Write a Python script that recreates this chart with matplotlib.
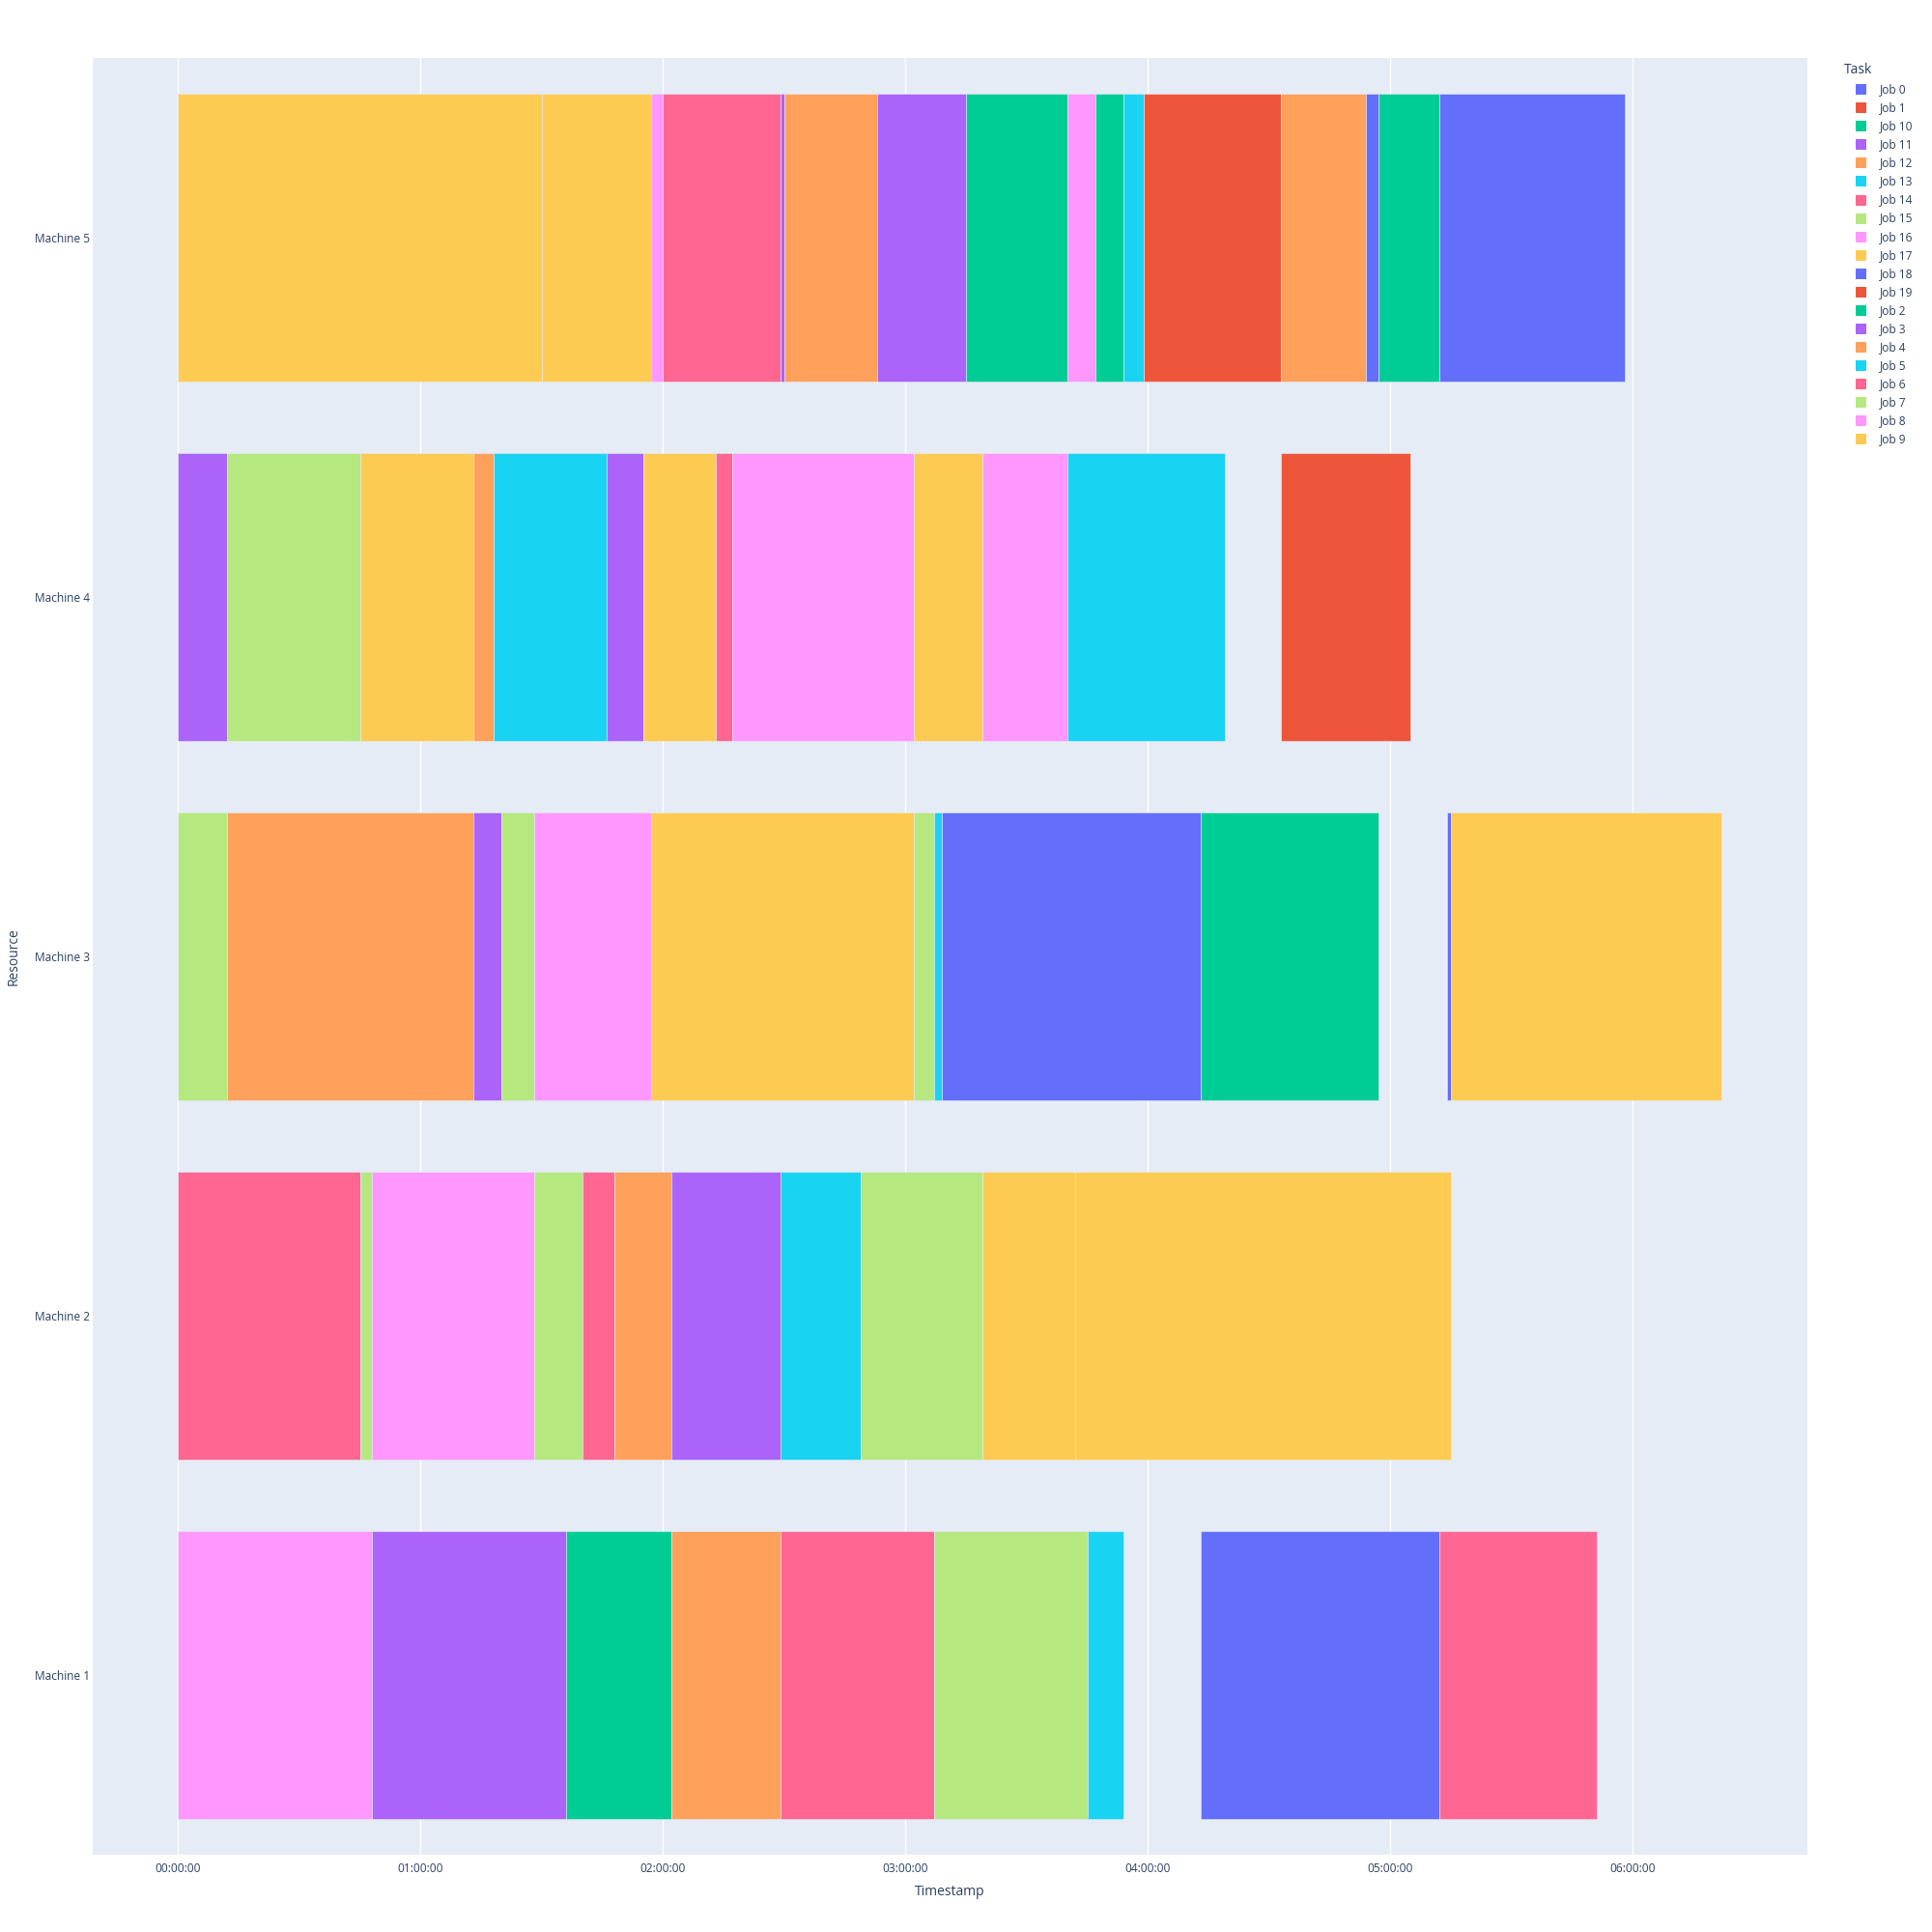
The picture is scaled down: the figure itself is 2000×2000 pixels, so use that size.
import matplotlib
matplotlib.use("Agg")
import matplotlib.pyplot as plt
from matplotlib.patches import Rectangle
from matplotlib.ticker import FuncFormatter, MultipleLocator

# schedule per machine, times in minutes from 00:00:00
machines = ["Machine 1", "Machine 2", "Machine 3", "Machine 4", "Machine 5"]

m1_start = [0, 48, 96, 122, 149, 187, 225, 253, 312]
m1_end = [48, 96, 122, 149, 187, 225, 234, 312, 351]
m1_job = ["Job 16", "Job 11", "Job 10", "Job 12", "Job 14", "Job 15", "Job 13", "Job 0", "Job 6"]

m2_start = [0, 45, 48, 88, 100, 108, 122, 149, 169, 199, 222]
m2_end = [45, 48, 88, 100, 108, 122, 149, 169, 199, 222, 315]
m2_job = ["Job 6", "Job 7", "Job 8", "Job 15", "Job 14", "Job 4", "Job 3",
          "Job 5", "Job 7", "Job 17", "Job 9"]

m3_start = [0, 12, 73, 80, 88, 117, 182, 187, 189, 253, 314, 315]
m3_end = [12, 73, 80, 88, 117, 182, 187, 189, 253, 297, 315, 382]
m3_job = ["Job 7", "Job 4", "Job 11", "Job 15", "Job 16", "Job 9", "Job 7",
          "Job 13", "Job 18", "Job 2", "Job 0", "Job 17"]

m4_start = [0, 12, 45, 73, 78, 106, 115, 133, 137, 182, 199, 220, 273]
m4_end = [12, 45, 73, 78, 106, 115, 133, 137, 182, 199, 220, 259, 305]
m4_job = ["Job 3", "Job 15", "Job 17", "Job 12", "Job 5", "Job 11", "Job 9",
          "Job 14", "Job 8", "Job 17", "Job 16", "Job 13", "Job 1"]

m5_start = [0, 90, 117, 120, 149, 150, 173, 195, 220, 227, 234, 239, 273, 294, 297, 312]
m5_end = [90, 117, 120, 149, 150, 173, 195, 220, 227, 234, 239, 273, 294, 297, 312, 358]
m5_job = ["Job 9", "Job 17", "Job 8", "Job 6", "Job 11", "Job 4", "Job 3", "Job 10",
          "Job 16", "Job 2", "Job 5", "Job 19", "Job 12", "Job 18", "Job 10", "Job 0"]

legend_jobs = ["Job 0", "Job 1", "Job 10", "Job 11", "Job 12", "Job 13", "Job 14",
               "Job 15", "Job 16", "Job 17", "Job 18", "Job 19", "Job 2", "Job 3",
               "Job 4", "Job 5", "Job 6", "Job 7", "Job 8", "Job 9"]

palette = ["#636EFA", "#EF553B", "#00CC96", "#AB63FA", "#FFA15A",
           "#19D3F3", "#FF6692", "#B6E880", "#FF97FF", "#FECB52"]
job_color = {j: palette[i % len(palette)] for i, j in enumerate(legend_jobs)}

plt.rcParams["font.family"] = ["Open Sans", "DejaVu Sans"]
TXT = "#2a3f5f"
BG = "#E5ECF6"

fig = plt.figure(figsize=(20, 20), dpi=100)
ax = fig.add_axes([0.0479, 0.04, 0.8876, 0.93])
ax.set_facecolor(BG)

rows = [(m1_start, m1_end, m1_job), (m2_start, m2_end, m2_job),
        (m3_start, m3_end, m3_job), (m4_start, m4_end, m4_job),
        (m5_start, m5_end, m5_job)]
for y, (st, en, jb) in enumerate(rows):
    widths = [e - s for s, e in zip(st, en)]
    ax.barh([y] * len(st), widths, left=st, height=0.8,
            color=[job_color[j] for j in jb], edgecolor=BG, linewidth=0.4, zorder=2)

ax.set_xlim(-21.2, 403.2)
ax.set_ylim(-0.5, 4.5)
ax.set_yticks(range(len(machines)))
ax.set_yticklabels(machines)
ax.xaxis.set_major_locator(MultipleLocator(60))
ax.xaxis.set_major_formatter(FuncFormatter(
    lambda v, _: f"{int(v // 60):02d}:{int(v % 60):02d}:00"))
ax.grid(axis="x", color="white", linewidth=1.0, zorder=0)
ax.set_axisbelow(True)
for s in ax.spines.values():
    s.set_visible(False)
ax.tick_params(length=0, labelsize=8.6, labelcolor=TXT, pad=6)
ax.tick_params(axis="y", pad=2)
ax.set_xlabel("Timestamp", fontsize=10, color=TXT, labelpad=7)
ax.set_ylabel("Resource", fontsize=10, color=TXT, labelpad=10)

# legend drawn like plotly's: title then swatch + label rows
W, H = 2000.0, 2000.0
fig.text(1909 / W, 1 - 73 / H, "Task", fontsize=10, color=TXT, va="center", ha="left")
for i, j in enumerate(legend_jobs):
    yc = 92.7 + i * 19.05
    fig.patches.append(Rectangle((1921 / W, 1 - (yc + 5.5) / H), 11 / W, 11 / H,
                                 transform=fig.transFigure, facecolor=job_color[j],
                                 edgecolor="none"))
    fig.text(1946 / W, 1 - yc / H, j, fontsize=8.6, color=TXT, va="center", ha="left")

fig.savefig("out.png", dpi=100, facecolor="white")
